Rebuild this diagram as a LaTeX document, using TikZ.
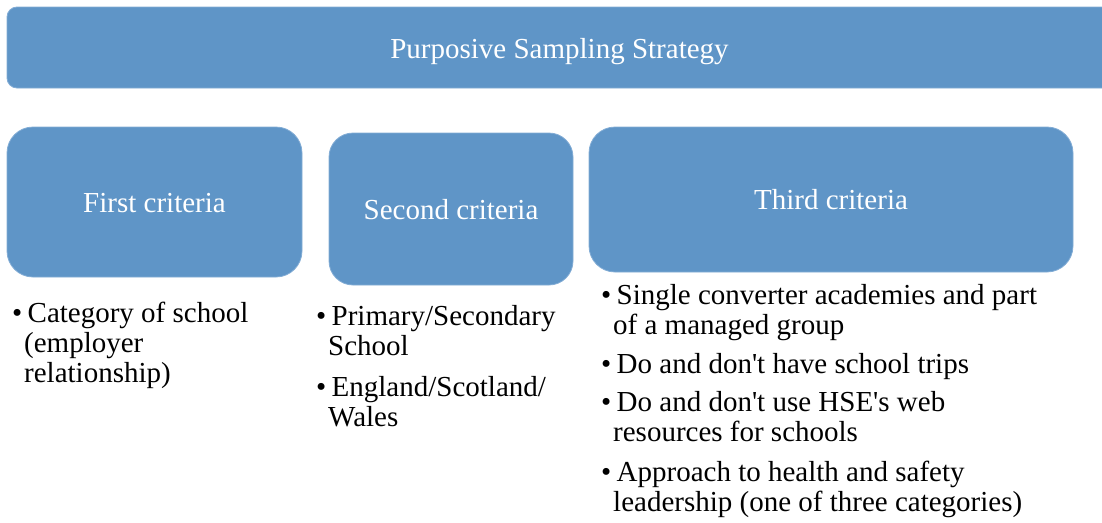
\documentclass[tikz,border=0pt]{standalone}
\usepackage{fontspec}
\setmainfont{Liberation Serif}
\definecolor{boxblue}{RGB}{95,149,199}
\definecolor{boxedge}{RGB}{130,172,213}
\begin{document}
\begin{tikzpicture}[x=1pt,y=-1pt,
  boxstyle/.style={draw=boxedge, line width=0.8pt, fill=boxblue, text=white,
    inner sep=0pt, font=\fontsize{29}{30}\selectfont, text height=20pt, text depth=0pt},
  itemstyle/.style={anchor=base west, align=left, inner sep=0pt,
    font=\fontsize{29}{30}\selectfont, text=black}
]
\useasboundingbox (0,0) rectangle (1102,522);
\clip (0,0) rectangle (1102,522);
\newcommand{\bul}{\llap{\textbullet\hspace{2pt}}\hspace*{3.5pt}}
\newcommand{\apos}{\textquotesingle}
% boxes
\node[boxstyle, rounded corners=10pt, minimum width=1105pt, minimum height=81pt,
  text height=21pt] (top) at (559.5,47.5) {Purposive Sampling Strategy};
\node[boxstyle, rounded corners=26pt, minimum width=295pt, minimum height=150pt] (first) at (154.5,202) {First criteria};
\node[boxstyle, rounded corners=24pt, minimum width=244pt, minimum height=152pt] (second) at (451,209) {Second criteria};
\node[boxstyle, rounded corners=26pt, minimum width=484pt, minimum height=145pt] (third) at (831,199.5) {Third criteria};
% items (anchor = baseline of the last line)
\node[itemstyle] (a1) at (24,382) {\bul Category of school\\(employer\\relationship)};
\node[itemstyle] (b1) at (328,355) {\bul Primary/Secondary\\School};
\node[itemstyle] (b2) at (328,426) {\bul England/Scotland/\\Wales};
\node[itemstyle] (c1) at (613,334) {\bul Single converter academies and part\\of a managed group};
\node[itemstyle] (c2) at (613,373) {\bul Do and don\apos t have school trips};
\node[itemstyle] (c3) at (613,441) {\bul Do and don\apos t use HSE\apos s web\\resources for schools};
\node[itemstyle] (c4) at (613,511) {\bul Approach to health and safety\\leadership (one of three categories)};
\end{tikzpicture}
\end{document}
